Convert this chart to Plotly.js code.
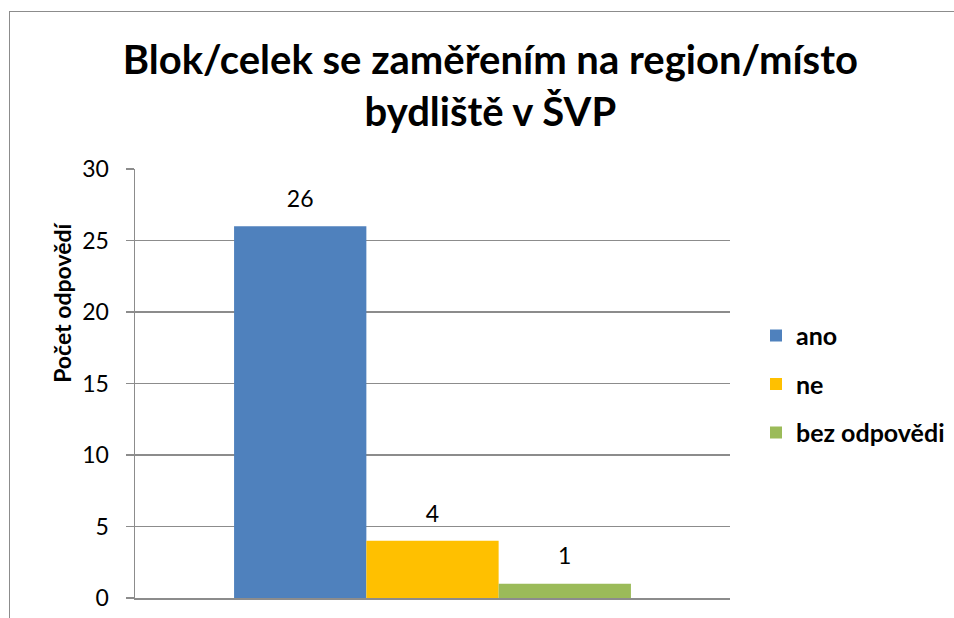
<!DOCTYPE html>
<html>
<head>
<meta charset="utf-8">
<script src="https://cdn.plot.ly/plotly-3.0.1.min.js"></script>
<style>
  html, body { margin: 0; padding: 0; background: #ffffff; overflow: hidden; }
  #frame { position: absolute; left: 9px; top: 11px; width: 3000px; height: 3000px; border: 1.4px solid #8c8c8c; box-sizing: border-box; }
  #chart { position: absolute; left: 0; top: 0; width: 954px; height: 618px; }
</style>
</head>
<body>
<div id="frame"></div>
<div id="chart"></div>
<script>
// ---- data ----
const categories = [""];
const seriesNames = ["ano", "ne", "bez odpovědi"];
const seriesValues = [[26], [4], [1]];
const seriesColors = ["#4F81BD", "#FFC000", "#9BBB59"];
const yTickValues = [0, 5, 10, 15, 20, 25, 30];
const chartTitle = "Blok/celek se zaměřením na region/místo<br>bydliště v ŠVP";
const yAxisTitle = "Počet odpovědí";

const FONT = "Lato, 'Open Sans', sans-serif";

const traces = [];
seriesNames.forEach((name, i) => {
  traces.push({
    type: "bar",
    name: name,
    x: categories,
    y: seriesValues[i],
    marker: { color: seriesColors[i] },
    legendgroup: "g" + i,
    offsetgroup: "o" + i,
    hoverinfo: "name+y"
  });
});
// data labels via grouped scatter text
seriesNames.forEach((name, i) => {
  traces.push({
    type: "scatter",
    mode: "markers+text",
    x: categories,
    y: seriesValues[i],
    text: seriesValues[i].map(String),
    textposition: "top center",
    textfont: { family: FONT, size: 23, color: "#000000" },
    marker: { size: 20, color: "rgba(0,0,0,0)" },
    offsetgroup: "o" + i,
    showlegend: false,
    hoverinfo: "skip",
    cliponaxis: false
  });
});

const layout = {
  width: 954,
  height: 618,
  paper_bgcolor: "rgba(0,0,0,0)",
  plot_bgcolor: "rgba(0,0,0,0)",
  margin: { l: 135, r: 224, t: 169, b: 20, autoexpand: false },
  font: { family: FONT, size: 18, color: "#000000" },
  title: {
    text: chartTitle,
    font: { family: FONT, size: 40, weight: "bold", color: "#000000" },
    xref: "container", yref: "container",
    x: 0.514, xanchor: "center",
    y: 1 - 74 / 618, yanchor: "middle"
  },
  barmode: "group",
  bargap: 0.333,
  bargroupgap: 0,
  scattermode: "group",
  scattergap: 0.333,
  xaxis: {
    type: "category",
    showticklabels: false,
    ticks: "",
    showgrid: false,
    showline: true,
    linecolor: "#8c8c8c",
    linewidth: 1.5,
    fixedrange: true
  },
  yaxis: {
    range: [0, 30],
    tickvals: yTickValues,
    ticks: "outside",
    ticklen: 8,
    tickcolor: "#8c8c8c",
    tickwidth: 1.5,
    ticklabelstandoff: 12,
    showline: true,
    linecolor: "#8c8c8c",
    linewidth: 1.5,
    showgrid: true,
    gridcolor: "#8c8c8c",
    gridwidth: 1.5,
    zeroline: false,
    tickfont: { family: FONT, size: 23, color: "#000000" },
    fixedrange: true
  },
  legend: {
    x: 1.0437, xanchor: "left",
    y: 0.665, yanchor: "top",
    font: { family: FONT, size: 25, weight: "bold", color: "#000000" },
    bgcolor: "rgba(0,0,0,0)",
    tracegroupgap: 13,
    itemwidth: 30
  },
  annotations: [{
    text: yAxisTitle,
    xref: "paper", yref: "paper",
    x: -0.1227, y: 0.688,
    xanchor: "center", yanchor: "middle",
    textangle: -90,
    showarrow: false,
    font: { family: FONT, size: 23, weight: "bold", color: "#000000" }
  }],
  showlegend: true
};

Plotly.newPlot("chart", traces, layout, { displayModeBar: false, staticPlot: true });
</script>
</body>
</html>
